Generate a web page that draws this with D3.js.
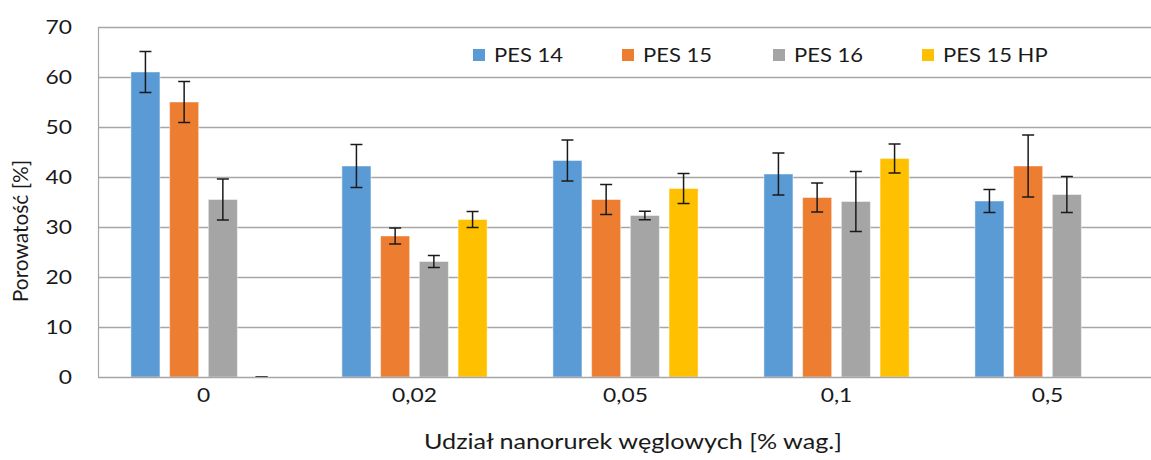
<!DOCTYPE html>
<html>
<head>
<meta charset="utf-8">
<script src="https://cdn.jsdelivr.net/npm/d3@7"></script>
<style>
  html, body { margin: 0; padding: 0; background: #fff; }
  svg { display: block; }
  text { font-family: Lato, "Liberation Sans", sans-serif; fill: #1a1a1a; }
</style>
</head>
<body>
<svg id="chart" width="1151" height="460"></svg>
<script>
// Porosity of PES membranes vs. carbon nanotube content
const categories = ["0", "0,02", "0,05", "0,1", "0,5"];
const seriesNames = ["PES 14", "PES 15", "PES 16", "PES 15 HP"];
const seriesColors = ["#5B9BD5", "#ED7D31", "#A5A5A5", "#FFC000"];

const pes14    = [61.0, 42.2, 43.3, 40.6, 35.2];
const pes14Err = [4.1, 4.3, 4.1, 4.2, 2.3];
const pes15    = [55.0, 28.2, 35.5, 35.9, 42.2];
const pes15Err = [4.1, 1.6, 3.0, 2.9, 6.2];
const pes16    = [35.5, 23.1, 32.3, 35.1, 36.5];
const pes16Err = [4.1, 1.2, 0.85, 6.0, 3.6];
const pes15hp    = [0, 31.5, 37.7, 43.7, null];
const pes15hpErr = [0, 1.6, 3.0, 2.9, null];

const yTicks = [0, 10, 20, 30, 40, 50, 60, 70];
const yTitle = "Porowatość [%]";
const xTitle = "Udział nanorurek węglowych [% wag.]";

const values = [pes14, pes15, pes16, pes15hp];
const errors = [pes14Err, pes15Err, pes16Err, pes15hpErr];

const svg = d3.select("#chart");
const plot = { left: 98, right: 1153, top: 27, bottom: 377 };
const stretch = 1.2;   // horizontal text widening

const x0 = d3.scaleBand().domain(categories).range([plot.left, plot.right]).padding(0);
const x1 = d3.scaleBand().domain(seriesNames).range([0, x0.bandwidth()])
  .paddingInner(0.25).paddingOuter(0.85);
const y = d3.scaleLinear().domain([0, 70]).range([plot.bottom, plot.top]);

// gridlines
svg.append("g")
  .selectAll("line")
  .data(yTicks.filter(t => t > 0))
  .join("line")
  .attr("x1", plot.left).attr("x2", plot.right)
  .attr("y1", d => Math.round(y(d)) + 0.5).attr("y2", d => Math.round(y(d)) + 0.5)
  .attr("stroke", "#a6a6a6").attr("stroke-width", 1.4);

// left border of the plot area
svg.append("line")
  .attr("x1", plot.left + 0.5).attr("x2", plot.left + 0.5)
  .attr("y1", plot.top).attr("y2", plot.bottom)
  .attr("stroke", "#a6a6a6").attr("stroke-width", 1.2);

// y axis labels
const yAxis = d3.axisLeft(y).tickValues(yTicks).tickSize(0).tickPadding(0);
const yg = svg.append("g").attr("transform", `translate(${plot.left - 26},0)`).call(yAxis);
yg.select(".domain").remove();
yg.selectAll("text")
  .attr("font-size", 19).attr("font-family", "Lato")
  .attr("fill", "#1a1a1a")
  .attr("dy", "0.36em")
  .attr("x", 0)
  .attr("transform", `scale(${stretch},1)`);

// bars
const groups = svg.append("g").selectAll("g")
  .data(categories)
  .join("g")
  .attr("transform", d => `translate(${x0(d)},0)`);

groups.selectAll("rect")
  .data((c, ci) => seriesNames.map((s, si) => ({ s, si, v: values[si][ci] })).filter(d => d.v !== null))
  .join("rect")
  .attr("x", d => x1(d.s))
  .attr("width", x1.bandwidth())
  .attr("y", d => y(d.v))
  .attr("height", d => y(0) - y(d.v))
  .attr("fill", d => seriesColors[d.si])
  .attr("stroke", "rgba(255,255,255,0.45)")
  .attr("stroke-width", 1);

// x axis line
svg.append("line")
  .attr("x1", plot.left).attr("x2", plot.right)
  .attr("y1", plot.bottom + 0.5).attr("y2", plot.bottom + 0.5)
  .attr("stroke", "#a6a6a6").attr("stroke-width", 1.4);

// error bars
const capW = 12;
const eb = groups.selectAll("g.err")
  .data((c, ci) => seriesNames.map((s, si) => ({ s, si, v: values[si][ci], e: errors[si][ci] })).filter(d => d.v !== null))
  .join("g").attr("class", "err")
  .attr("stroke", "#1a1a1a").attr("stroke-width", 1.5);
const cx = d => x1(d.s) + x1.bandwidth() / 2;
eb.append("line")
  .attr("x1", cx).attr("x2", cx)
  .attr("y1", d => y(d.v + d.e)).attr("y2", d => y(Math.max(0, d.v - d.e)));
eb.append("line")
  .attr("x1", d => cx(d) - capW / 2).attr("x2", d => cx(d) + capW / 2)
  .attr("y1", d => y(d.v + d.e)).attr("y2", d => y(d.v + d.e));
eb.append("line")
  .attr("x1", d => cx(d) - capW / 2).attr("x2", d => cx(d) + capW / 2)
  .attr("y1", d => y(Math.max(0, d.v - d.e))).attr("y2", d => y(Math.max(0, d.v - d.e)));

// x axis labels
const xAxis = d3.axisBottom(x0).tickSize(0).tickPadding(0);
const xg = svg.append("g").attr("transform", `translate(0,${plot.bottom + 18})`).call(xAxis);
xg.select(".domain").remove();
xg.selectAll("text")
  .attr("font-size", 19).attr("font-family", "Lato").attr("fill", "#1a1a1a")
  .attr("dy", "0.36em").attr("y", 0).attr("x", 0)
  .attr("transform", `scale(${stretch},1)`);

// axis titles
svg.append("text")
  .attr("transform", `translate(633,441) scale(1.2,1)`)
  .attr("text-anchor", "middle").attr("dy", "0.36em")
  .attr("font-size", 21)
  .text(xTitle);

svg.append("text")
  .attr("transform", `translate(21,231) rotate(-90) scale(1.02,1)`)
  .attr("text-anchor", "middle").attr("dy", "0.36em")
  .attr("font-size", 20.5)
  .text(yTitle);

// legend
const legendX = [473, 622, 773, 922];
const legend = svg.append("g").selectAll("g")
  .data(seriesNames)
  .join("g")
  .attr("transform", (d, i) => `translate(${legendX[i]},55)`);
legend.append("rect")
  .attr("x", 0).attr("y", -6).attr("width", 12).attr("height", 12)
  .attr("fill", (d, i) => seriesColors[i]);
legend.append("text")
  .attr("transform", `translate(21,0) scale(1.1,1)`)
  .attr("dy", "0.36em")
  .attr("font-size", 20)
  .text(d => d);
</script>
</body>
</html>
